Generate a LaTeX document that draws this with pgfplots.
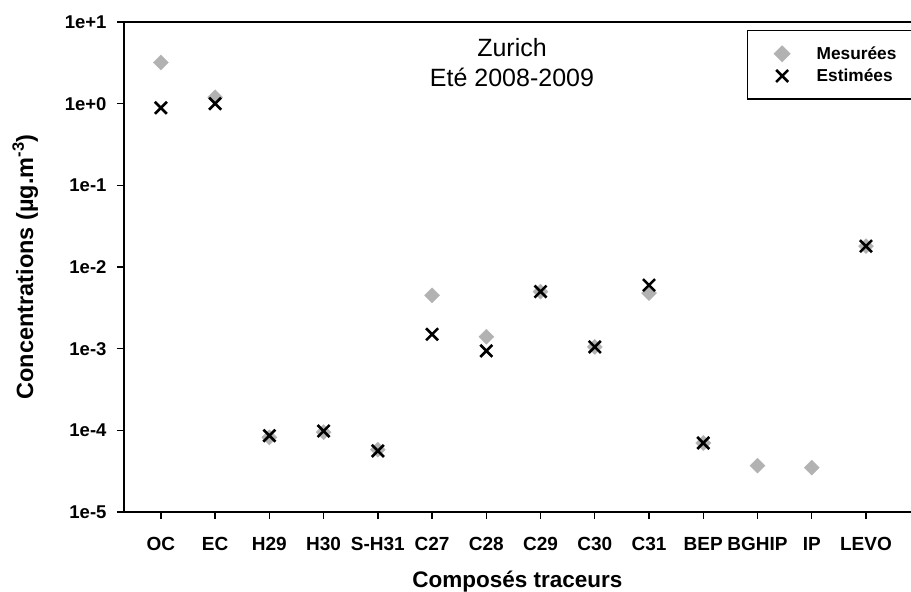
\documentclass[border=0pt]{standalone}
\usepackage{pgfplots}
\pgfplotsset{compat=1.18}
\usepackage{fontspec}
\setmainfont{Liberation Sans}
\definecolor{mesgray}{RGB}{178,178,178}
\begin{document}
\begin{tikzpicture}
\begin{axis}[
  at={(0,0)}, anchor=south west,
  scale only axis, width=787pt, height=490pt,
  ymode=log, ymin=1e-5, ymax=10,
  xmin=-0.68, xmax=13.83,
  axis x line*=bottom, axis y line*=left,
  axis line style={line width=1.8pt, -},
  xtick={0,...,13},
  xticklabels={OC,EC,H29,H30,S-H31,C27,C28,C29,C30,C31,BEP,BGHIP,IP,LEVO},
  ytick={1e-5,1e-4,1e-3,1e-2,1e-1,1,10},
  yticklabels={1e-5,1e-4,1e-3,1e-2,1e-1,1e+0,1e+1},
  yminorticks=false,
  tick align=outside, major tick length=7pt,
  tick style={line width=1.4pt, black},
  yticklabel style={font=\bfseries\fontsize{18.5}{20}\selectfont, anchor=east, xshift=-7pt},
  xticklabel style={font=\bfseries\fontsize{19}{21}\selectfont, anchor=base, yshift=-32pt},
  ylabel={Concentrations (µg.m\textsuperscript{-3})},
  xlabel={Composés traceurs},
  ylabel style={font=\bfseries\fontsize{23.5}{26}\selectfont, at={(axis description cs:-0.1156,0.5)}, anchor=base},
  xlabel style={font=\bfseries\fontsize{22.5}{25}\selectfont, at={(axis description cs:0.5,-0.155)}, anchor=base},
  clip=false,
  legend style={at={(rel axis cs:0.7916,0.9837)}, anchor=north west,
    draw=black, line width=1.4pt, font=\bfseries\fontsize{17.3}{19}\selectfont,
    inner xsep=27pt, inner ysep=14pt, row sep=4pt,
    /tikz/every odd column/.append style={column sep=25pt}},
  legend cell align=left,
]
\addplot[only marks, mark=square*, mark size=5.3pt, mark options={rotate=45}, color=mesgray] coordinates {
(0,3.2) (1,1.2) (2,8.2e-5) (3,9.5e-5) (4,5.8e-5) (5,4.5e-3) (6,1.4e-3)
(7,5.0e-3) (8,1.05e-3) (9,4.8e-3) (10,7.0e-5) (11,3.7e-5) (12,3.5e-5) (13,1.8e-2)};
\addlegendentry{Mesurées}
\addplot[only marks, mark=x, mark size=8.5pt, color=black, line width=2.6pt] coordinates {
(0,0.89) (1,1.0) (2,8.6e-5) (3,9.8e-5) (4,5.6e-5) (5,1.5e-3) (6,9.4e-4)
(7,5.0e-3) (8,1.05e-3) (9,6.0e-3) (10,7.0e-5) (13,1.8e-2)};
\addlegendentry{Estimées}
\draw[line width=1.8pt] (rel axis cs:0,1) -- (rel axis cs:1.02,1);
\node[align=center, font=\fontsize{25}{30}\selectfont] at (rel axis cs:0.493,0.917) {Zurich\\Eté 2008-2009};
\end{axis}
\pgfresetboundingbox
\path[use as bounding box] (-124pt,-80pt) rectangle (787pt,512pt);
\end{tikzpicture}
\end{document}
